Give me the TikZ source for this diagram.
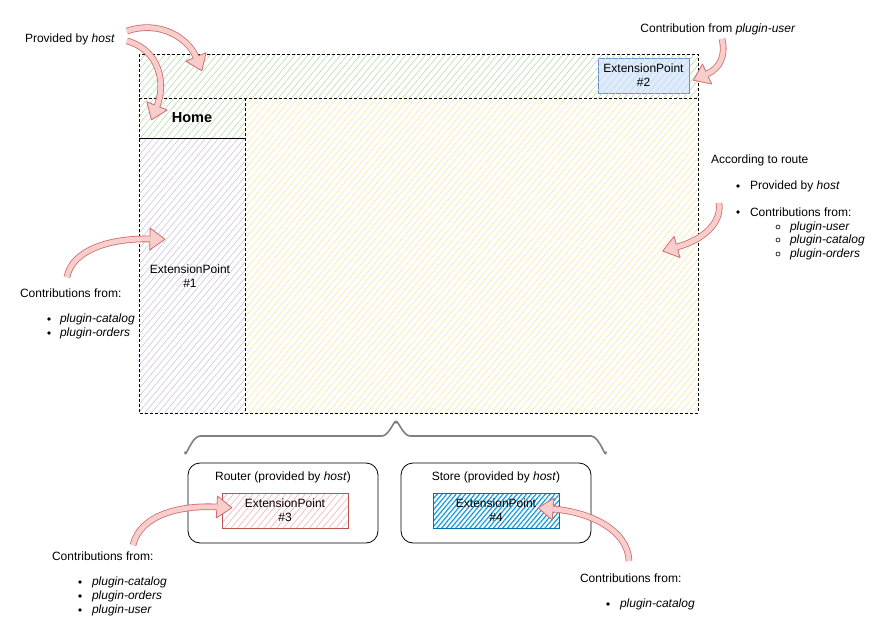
\documentclass[tikz,border=0pt]{standalone}
\usepackage{fontspec}
\setmainfont{Liberation Sans}
\usetikzlibrary{patterns.meta,decorations.markings}
\definecolor{hgreen}{RGB}{185,220,172}
\definecolor{hpurple}{RGB}{205,196,228}
\definecolor{hyellow}{RGB}{252,232,168}
\definecolor{epbord}{RGB}{108,142,191}
\definecolor{epfill}{RGB}{222,235,250}
\definecolor{ephatch}{RGB}{200,218,240}
\definecolor{redb}{RGB}{184,84,80}
\definecolor{redh}{RGB}{242,180,176}
\definecolor{blueh}{RGB}{27,161,226}
\definecolor{blueb}{RGB}{0,110,175}
\definecolor{arrfill}{RGB}{248,206,204}
\definecolor{arrline}{RGB}{205,110,108}
\definecolor{bracec}{RGB}{128,128,128}
\tikzset{
  base/.style={inner sep=0pt, outer sep=0pt},
  txt/.style={base, font=\fontsize{12}{14}\selectfont, anchor=west},
  region/.style={base, anchor=north west, draw=none},
  hatch/.style={pattern={Lines[angle=50,distance=5pt,line width=0.6pt]}},
  densehatch/.style={pattern={Lines[angle=50,distance=3.6pt,line width=1.3pt]}},
  frameline/.style={line width=0.8pt, dash pattern=on 3pt off 2pt},
  epbox/.style={base, anchor=north west, align=center, line width=0.8pt, font=\fontsize{12}{14}\selectfont, minimum width=126, minimum height=35},
  holder/.style={base, anchor=north west, draw, line width=0.8pt, rounded corners=12pt, minimum width=190, minimum height=80},
  bul/.style={base, circle, fill=black, minimum size=3.6pt},
  hbul/.style={base, circle, draw=black, line width=0.6pt, minimum size=4pt},
  shaft/.style={draw=arrline, line width=0.8pt, double=arrfill, double distance=5pt},
  headmark/.style={decorate, decoration={markings, mark=at position 0.999 with {
      \filldraw[draw=arrline, fill=arrfill, line width=0.8pt, line join=round] (0,-11) -- (15,0) -- (0,11) -- cycle;
      \fill[arrfill] (-0.9,-2.5) rectangle (0.7,2.5);}}},
  bracestyle/.style={draw=bracec, line width=1.6pt, line cap=round, line join=round}
}
\newcommand\flexarr[4]{%
  \draw[shaft] (#1) .. controls (#2) and (#3) .. (#4);
  \path[headmark] (#1) .. controls (#2) and (#3) .. (#4);}
\begin{document}
\begin{tikzpicture}[x=1pt,y=-1pt]
\useasboundingbox[fill=white] (0,0) rectangle (894,640);

% layout regions
\node[region, hatch, pattern color=hgreen, minimum width=559, minimum height=44] (header) at (139,54) {};
\node[region, hatch, pattern color=hgreen, minimum width=106, minimum height=40, font=\fontsize{14.5}{16}\selectfont\bfseries] (home) at (139,98) {Home};
\node[region, hatch, pattern color=hpurple, minimum width=106, minimum height=275] (side) at (139,138) {};
\node[region, hatch, pattern color=hyellow, minimum width=453, minimum height=315] (content) at (245,98) {};
\draw[frameline] (header.north west) rectangle (content.south east);
\draw[frameline] (header.south west) -- (header.south east);
\draw[frameline] (content.north west) -- (content.south west);
\draw[line width=0.8pt] (home.south west) -- (home.south east);

\node[txt, anchor=center, align=center] (ep1) at (190,276) {ExtensionPoint\\\#1};
\node[epbox, draw=epbord, fill=epfill, minimum width=91, postaction={hatch, pattern color=ephatch}] (ep2) at (598,58) {ExtensionPoint\\\#2};

% brace
\coordinate (brL) at (185,452);
\coordinate (brR) at (606,452);
\coordinate (brT) at (396,423);
\draw[bracestyle] (brL) to[out=-90,in=180] (200,436) -- (382,436) to[out=0,in=90] (brT)
   to[out=90,in=180] (410,436) -- (591,436) to[out=0,in=-90] (brR);

% router / store
\node[holder] (router) at (188,463) {};
\node[holder] (store) at (401,463) {};
\node[txt, anchor=center] (routerlbl) at (283,477) {Router (provided by \textit{host})};
\node[txt, anchor=center] (storelbl) at (496,477) {Store (provided by \textit{host})};
\node[epbox, draw=redb, hatch, pattern color=redh] (ep3) at (222,493) {ExtensionPoint\\\#3};
\node[epbox, draw=blueb, densehatch, pattern color=blueh] (ep4) at (433,493) {ExtensionPoint\\\#4};

% annotations
\node[txt] (provhost) at (25,39) {Provided by \textit{host}};
\node[txt, anchor=center] (contuser) at (718,29) {Contribution from \textit{plugin-user}};

\node[txt] (route) at (711,160) {According to route};
\node[bul] (rb1) at (738,186) {};
\node[txt] (rt1) at (750,186) {Provided by \textit{host}};
\node[bul] (rb2) at (738,212) {};
\node[txt] (rt2) at (750,212) {Contributions from:};
\node[hbul] (rs1) at (778,227) {};
\node[txt] (rst1) at (790,227) {\textit{plugin-user}};
\node[hbul] (rs2) at (778,240) {};
\node[txt] (rst2) at (790,240) {\textit{plugin-catalog}};
\node[hbul] (rs3) at (778,254) {};
\node[txt] (rst3) at (790,254) {\textit{plugin-orders}};

\node[txt] (lcont) at (20,293) {Contributions from:};
\node[bul] (lb1) at (49,319) {};
\node[txt] (lt1) at (60,319) {\textit{plugin-catalog}};
\node[bul] (lb2) at (49,333) {};
\node[txt] (lt2) at (60,333) {\textit{plugin-orders}};

\node[txt] (bcont) at (52,556) {Contributions from:};
\node[bul] (bb1) at (80,582) {};
\node[txt] (bt1) at (92,582) {\textit{plugin-catalog}};
\node[bul] (bb2) at (80,596) {};
\node[txt] (bt2) at (92,596) {\textit{plugin-orders}};
\node[bul] (bb3) at (80,610) {};
\node[txt] (bt3) at (92,610) {\textit{plugin-user}};

\node[txt] (scont) at (580,578) {Contributions from:};
\node[bul] (sb1) at (608,604) {};
\node[txt] (st1) at (620,604) {\textit{plugin-catalog}};

% curved block arrows
\coordinate (a1s) at (127,31);  \coordinate (a1e) at (196,57);
\flexarr{a1s}{160,20}{188,38}{a1e}
\coordinate (a2s) at (127,41);  \coordinate (a2e) at (157,106);
\flexarr{a2s}{160,50}{166,84}{a2e}
\coordinate (a3s) at (722,39);  \coordinate (a3e) at (707,74);
\flexarr{a3s}{726,56}{720,68}{a3e}
\coordinate (a4s) at (719,203); \coordinate (a4e) at (677,247);
\flexarr{a4s}{722,224}{702,240}{a4e}
\coordinate (a5s) at (67,277);  \coordinate (a5e) at (150,239);
\flexarr{a5s}{72,250}{110,238}{a5e}
\coordinate (a6s) at (133,545); \coordinate (a6e) at (217,507);
\flexarr{a6s}{140,515}{180,505}{a6e}
\coordinate (a7s) at (629,561); \coordinate (a7e) at (553,509);
\flexarr{a7s}{628,530}{590,512}{a7e}
\end{tikzpicture}
\end{document}
